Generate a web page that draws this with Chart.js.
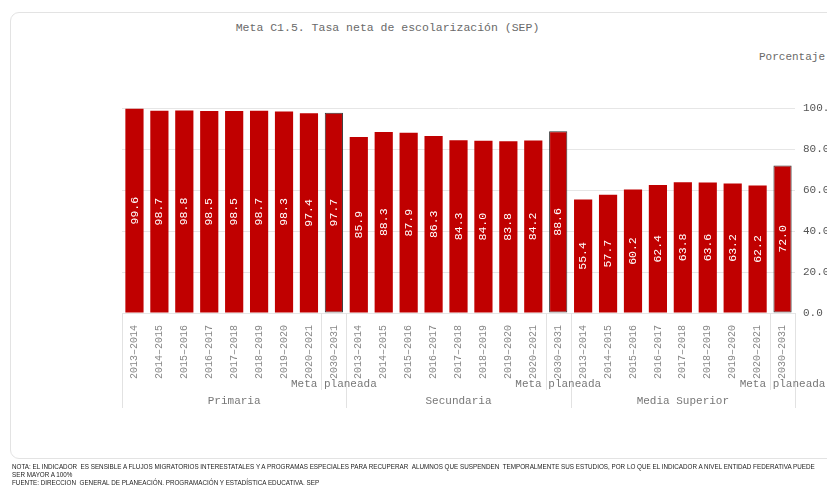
<!DOCTYPE html>
<html>
<head>
<meta charset="utf-8">
<script src="https://cdn.jsdelivr.net/npm/chart.js@4.4.0/dist/chart.umd.min.js"></script>
<style>
  body { margin: 0; background: #fff; width: 827px; height: 485px; overflow: hidden; position: relative; }
  #card { position: absolute; left: 10px; top: 12px; width: 840px; height: 445px; border: 1px solid #e3e3e3; border-radius: 9px; }
  #title { position: absolute; left: 0; width: 775px; top: 21px; text-align: center; font: 11.5px "Liberation Mono", monospace; color: #6a6a6a; }
  #unit { position: absolute; left: 759px; top: 51px; font: 11px "Liberation Mono", monospace; color: #6a6a6a; white-space: nowrap; }
  #chart { position: absolute; left: 0; top: 0; }
  #note { position: absolute; left: 12px; top: 463px; font: 6.3px "Liberation Sans", Arial, sans-serif; color: #222; line-height: 8px; white-space: nowrap; }
</style>
</head>
<body>
<div id="card"></div>
<div id="title">Meta C1.5. Tasa neta de escolarización (SEP)</div>
<div id="unit">Porcentaje</div>
<canvas id="chart" width="827" height="485"></canvas>
<div id="note">NOTA: EL INDICADOR &nbsp;ES SENSIBLE A FLUJOS MIGRATORIOS INTERESTATALES Y A PROGRAMAS ESPECIALES PARA RECUPERAR &nbsp;ALUMNOS QUE SUSPENDEN &nbsp;TEMPORALMENTE SUS ESTUDIOS, POR LO QUE EL INDICADOR A NIVEL ENTIDAD FEDERATIVA PUEDE<br>SER MAYOR A 100%<br>FUENTE: DIRECCION &nbsp;GENERAL DE PLANEACIÓN, PROGRAMACIÓN Y ESTADÍSTICA EDUCATIVA, SEP</div>
<script>
const levels = ['Primaria', 'Secundaria', 'Media Superior'];
const years = ['2013–2014', '2014–2015', '2015–2016', '2016–2017', '2017–2018', '2018–2019', '2019–2020', '2020–2021', '2030–2031'];
const metaLabel = 'Meta planeada';
const primaria = [99.6, 98.7, 98.8, 98.5, 98.5, 98.7, 98.3, 97.4, 97.7];
const secundaria = [85.9, 88.3, 87.9, 86.3, 84.3, 84.0, 83.8, 84.2, 88.6];
const mediaSuperior = [55.4, 57.7, 60.2, 62.4, 63.8, 63.6, 63.2, 62.2, 72.0];
const yTicks = [0, 20, 40, 60, 80, 100];

const groups = [primaria, secundaria, mediaSuperior];
const labels = [];
const values = [];
const isMeta = [];
groups.forEach(g => {
  g.forEach((v, i) => {
    labels.push(years[i]);
    values.push(v);
    isMeta.push(i === years.length - 1);
  });
});

const mono = '"Liberation Mono", "Courier New", monospace';

// labels inside bars, separators and group headers
const extras = {
  id: 'extras',
  afterDatasetsDraw(chart) {
    const ctx = chart.ctx;
    const bars = chart.getDatasetMeta(0).data;
    ctx.save();
    ctx.fillStyle = '#fff';
    ctx.font = '11.5px ' + mono;
    ctx.textAlign = 'center';
    ctx.textBaseline = 'middle';
    bars.forEach((b, i) => {
      ctx.save();
      ctx.translate(b.x, (b.y + b.base) / 2);
      ctx.rotate(-Math.PI / 2);
      ctx.fillText(values[i].toFixed(1), 0, 0);
      ctx.restore();
    });
    ctx.restore();
  },
  afterDraw(chart) {
    const ctx = chart.ctx;
    const area = chart.chartArea;
    const bars = chart.getDatasetMeta(0).data;
    const n = years.length;
    const edge = i => {
      if (i === 0) return area.left;
      if (i === bars.length) return area.right;
      return (bars[i - 1].x + bars[i].x) / 2;
    };
    ctx.save();
    ctx.strokeStyle = '#e2e2e2';
    ctx.lineWidth = 1;
    for (let g = 0; g <= levels.length; g++) {
      const x = Math.round(edge(g * n)) + 0.5;
      ctx.beginPath(); ctx.moveTo(x, area.bottom); ctx.lineTo(x, area.bottom + 95); ctx.stroke();
    }
    for (let g = 0; g < levels.length; g++) {
      const x = Math.round(edge(g * n + n - 1)) + 0.5;
      ctx.beginPath(); ctx.moveTo(x, area.bottom); ctx.lineTo(x, area.bottom + 77); ctx.stroke();
    }
    ctx.fillStyle = '#777';
    ctx.font = '11px ' + mono;
    ctx.textAlign = 'center';
    ctx.textBaseline = 'middle';
    for (let g = 0; g < levels.length; g++) {
      const m = bars[g * n + n - 1];
      ctx.fillText(metaLabel, m.x, area.bottom + 71);
      const cx = (edge(g * n) + edge(g * n + n)) / 2;
      ctx.fillText(levels[g], cx, area.bottom + 88);
    }
    ctx.restore();
  }
};

new Chart(document.getElementById('chart'), {
  type: 'bar',
  data: {
    labels: labels,
    datasets: [{
      data: values,
      backgroundColor: '#c00000',
      borderColor: isMeta.map(m => m ? '#333' : '#c00000'),
      borderWidth: isMeta.map(m => m ? 1 : 0),
      borderSkipped: false,
      barPercentage: 0.73,
      categoryPercentage: 1
    }]
  },
  options: {
    responsive: false,
    animation: false,
    layout: { padding: { top: 108, left: 122, right: 0, bottom: 0 } },
    plugins: { legend: { display: false }, tooltip: { enabled: false } },
    scales: {
      x: {
        grid: { display: false },
        border: { display: false },
        ticks: {
          autoSkip: false, minRotation: 90, maxRotation: 90, padding: 4,
          color: '#888', font: { family: mono, size: 10 }
        },
        afterFit(scale) { scale.height = 172; }
      },
      y: {
        position: 'right',
        min: 0, max: 100,
        afterBuildTicks(scale) { scale.ticks = yTicks.map(v => ({ value: v })); },
        grid: { color: '#e6e6e6', drawTicks: false },
        border: { display: false },
        ticks: {
          padding: 8, color: '#555', font: { family: mono, size: 11 },
          callback: v => v.toFixed(1)
        },
        afterFit(scale) { scale.width = 32; }
      }
    }
  },
  plugins: [extras]
});
</script>
</body>
</html>
